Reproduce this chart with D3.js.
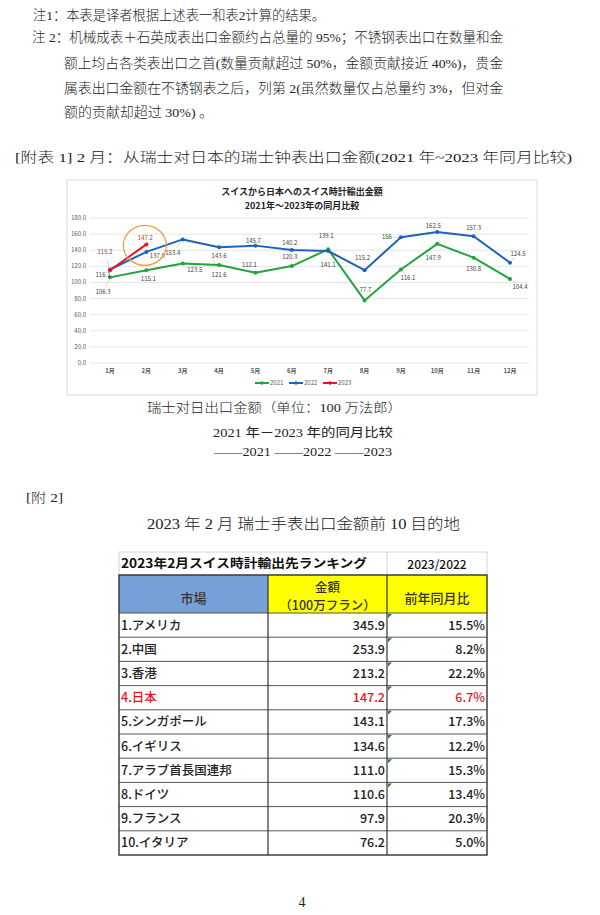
<!DOCTYPE html>
<html>
<head>
<meta charset="utf-8">
<script src="https://cdn.jsdelivr.net/npm/d3@7"></script>
<style>
  html, body { margin: 0; padding: 0; background: #fff; }
  svg { display: block; }
</style>
</head>
<body>
<div class="viz"></div>
<script>
// ---- data ----
const months = ['1月', '2月', '3月', '4月', '5月', '6月', '7月', '8月', '9月', '10月', '11月', '12月'];
const years = ['2021', '2022', '2023'];
const values2021 = [106.3, 115.1, 123.5, 121.6, 112.1, 120.3, 141.1, 77.7, 116.1, 147.9, 130.8, 104.4];
const values2022 = [116.1, 137.9, 153.4, 143.6, 145.7, 140.2, 139.1, 115.2, 156, 162.5, 157.3, 124.5];
const values2023 = [115.2, 147.2];
const yTicks = [0, 20, 40, 60, 80, 100, 120, 140, 160, 180];

const markets = ['1.アメリカ', '2.中国', '3.香港', '4.日本', '5.シンガポール', '6.イギリス',
  '7.アラブ首長国連邦', '8.ドイツ', '9.フランス', '10.イタリア'];
const amounts = [345.9, 253.9, 213.2, 147.2, 143.1, 134.6, 111.0, 110.6, 97.9, 76.2];
const yoy = [15.5, 8.2, 22.2, 6.7, 17.3, 12.2, 15.3, 13.4, 20.3, 5.0];

// label placement (dx, dy from the point, leader line?)
const labelPos = {
  '2021': [[-7, 15, 1], [2, 9, 0], [12, 6, 0], [0, 10, 0], [-6, -8, 0], [-2, -9, 0],
           [0, 16, 0], [1, -10, 0], [7, 9, 1], [-4, 14, 0], [0, 11, 0], [10, 8, 1]],
  '2022': [[-7, 6, 0], [11, 4, 0], [-10, 14, 1], [0, 9, 0], [-2, -5, 0], [-2, -7, 0],
           [-2, -15, 0], [-2, -12, 0], [-14, 0, 1], [-4, -6, 0], [0, -8, 0], [8, -9, 1]],
  '2023': [[-5, -18, 1], [-1, -6, 0]]
};
const colors = { '2021': '#23a33c', '2022': '#1e62bd', '2023': '#e8161b' };

const serif = '"Liberation Serif", "Noto Sans CJK SC", serif';
const jp = '"Noto Sans CJK JP", sans-serif';

const svg = d3.select('.viz').append('svg')
  .attr('width', 600).attr('height', 915);

// ---- notes above ----
const notes = [
  { t: '注1：本表是译者根据上述表一和表2计算的结果。', x: 33, y: 20, w: 292 },
  { t: '注 2：机械成表＋石英成表出口金额约占总量的 95%；不锈钢表出口在数量和金', x: 32, y: 42, w: 471 },
  { t: '额上均占各类表出口之首(数量贡献超过 50%，金额贡献接近 40%)，贵金', x: 64, y: 68, w: 439 },
  { t: '属表出口金额在不锈钢表之后，列第 2(虽然数量仅占总量约 3%，但对金', x: 64, y: 93, w: 439 },
  { t: '额的贡献却超过 30%) 。', x: 64, y: 117, w: 149 },
  { t: '[附表 1] 2 月：从瑞士对日本的瑞士钟表出口金额(2021 年~2023 年同月比较)', x: 15, y: 162, w: 557 }
];
svg.append('g').selectAll('text').data(notes).join('text')
  .attr('x', d => d.x).attr('y', d => d.y)
  .attr('textLength', d => d.w).attr('lengthAdjust', 'spacingAndGlyphs')
  .style('font-family', serif).style('font-size', '13.5px').style('font-weight', 300)
  .attr('fill', '#222').text(d => d.t);

// ---- chart ----
const chart = svg.append('g');
chart.append('rect')
  .attr('x', 67).attr('y', 180).attr('width', 470).attr('height', 215)
  .attr('fill', '#fff').attr('stroke', '#d9d9d9').attr('stroke-width', 1);

const x = d3.scalePoint().domain(months).range([110, 510]);
const y = d3.scaleLinear().domain([0, 180]).range([363, 218]);

chart.append('g').selectAll('line').data(yTicks).join('line')
  .attr('x1', 90).attr('x2', 529)
  .attr('y1', d => y(d)).attr('y2', d => y(d))
  .attr('stroke', '#dedede').attr('stroke-width', 0.8);

chart.append('g').selectAll('text').data(yTicks).join('text')
  .attr('x', 86).attr('y', d => y(d) + 2)
  .attr('text-anchor', 'end')
  .style('font-family', jp).style('font-size', '6px')
  .attr('fill', '#595959').text(d => d.toFixed(1));

chart.append('g').selectAll('text').data(months).join('text')
  .attr('x', d => x(d)).attr('y', 373)
  .attr('text-anchor', 'middle')
  .style('font-family', jp).style('font-size', '6px').style('font-weight', 700)
  .attr('fill', '#595959').text(d => d);

chart.append('text')
  .attr('x', 302).attr('y', 195).attr('text-anchor', 'middle')
  .style('font-family', jp).style('font-size', '9px').style('font-weight', 700)
  .attr('fill', '#222').text('スイスから日本へのスイス時計輸出金額');
chart.append('text')
  .attr('x', 302).attr('y', 209).attr('text-anchor', 'middle')
  .style('font-family', jp).style('font-size', '9px').style('font-weight', 700)
  .attr('fill', '#222').text('2021年～2023年の同月比較');

const seriesData = [
  { year: '2021', values: values2021 },
  { year: '2022', values: values2022 },
  { year: '2023', values: values2023 }
];

const line = d3.line()
  .x((d, i) => x(months[i]))
  .y(d => y(d));

seriesData.forEach(s => {
  const g = chart.append('g');
  const pts = s.values.map((v, i) => ({
    v, i, px: x(months[i]), py: y(v),
    dx: labelPos[s.year][i][0], dy: labelPos[s.year][i][1], leader: labelPos[s.year][i][2]
  }));

  g.selectAll('line.leader').data(pts.filter(p => p.leader)).join('line')
    .attr('class', 'leader')
    .attr('x1', p => p.px).attr('y1', p => p.py)
    .attr('x2', p => p.px + p.dx * 0.6).attr('y2', p => p.py + p.dy * 0.6)
    .attr('stroke', '#bfbfbf').attr('stroke-width', 0.6);

  g.append('path').datum(s.values)
    .attr('d', line)
    .attr('fill', 'none')
    .attr('stroke', colors[s.year])
    .attr('stroke-width', 2)
    .attr('stroke-linejoin', 'round');

  g.selectAll('circle').data(pts).join('circle')
    .attr('cx', p => p.px).attr('cy', p => p.py).attr('r', 2)
    .attr('fill', colors[s.year]);

  g.selectAll('text').data(pts).join('text')
    .attr('x', p => p.px + p.dx).attr('y', p => p.py + p.dy + 2)
    .attr('text-anchor', 'middle')
    .style('font-family', jp).style('font-size', '6px')
    .attr('fill', s.year === '2023' ? '#e8161b' : '#404040')
    .text(p => p.v);
});

// orange circle around Feb 2023
chart.append('ellipse')
  .attr('cx', x('2月') - 1.5).attr('cy', y(values2023[1]) + 1)
  .attr('rx', 21.5).attr('ry', 20)
  .attr('fill', 'none').attr('stroke', '#f29a3a').attr('stroke-width', 1.3);

// legend
const legend = chart.append('g').selectAll('g').data(years).join('g')
  .attr('transform', (d, i) => `translate(${255 + i * 34},383)`);
legend.append('line')
  .attr('x1', 0).attr('x2', 14).attr('y1', 0).attr('y2', 0)
  .attr('stroke', d => colors[d]).attr('stroke-width', 2);
legend.append('circle').attr('cx', 7).attr('cy', 0).attr('r', 1.8)
  .attr('fill', d => colors[d]);
legend.append('text').attr('x', 15).attr('y', 2)
  .style('font-family', jp).style('font-size', '6px')
  .attr('fill', '#595959').text(d => d);

// ---- captions below chart ----
const caps = [
  { t: '瑞士对日出口金额（单位：100 万法郎）', x: 147, y: 412, w: 255, s: 13, wt: 300 },
  { t: '2021 年－2023 年的同月比较', x: 213, y: 437, w: 180, s: 12.5, wt: 400 },
  { t: '——2021  ——2022 ——2023', x: 214, y: 456, w: 178, s: 12, wt: 400 },
  { t: '[附 2]', x: 26, y: 502, w: 37, s: 13, wt: 300 },
  { t: '2023 年 2 月 瑞士手表出口金额前 10 目的地', x: 147, y: 529, w: 313, s: 15, wt: 300 }
];
svg.append('g').selectAll('text').data(caps).join('text')
  .attr('x', d => d.x).attr('y', d => d.y)
  .attr('textLength', d => d.w).attr('lengthAdjust', 'spacingAndGlyphs')
  .style('font-family', serif).style('font-size', d => d.s + 'px').style('font-weight', d => d.wt)
  .attr('fill', '#222').text(d => d.t);

// ---- table ----
const tbl = svg.append('g');
const cx = [119, 268, 387, 487];
const titleTop = 552, headTop = 575, bodyTop = 613, rowH = 24.2;
const rowY = d3.scaleLinear().domain([0, markets.length]).range([bodyTop, bodyTop + rowH * markets.length]);

// title row
tbl.append('rect').attr('x', cx[0]).attr('y', titleTop).attr('width', cx[3] - cx[0]).attr('height', headTop - titleTop)
  .attr('fill', '#fff').attr('stroke', '#c8c8c8').attr('stroke-width', 0.8);
tbl.append('line').attr('x1', cx[2]).attr('x2', cx[2]).attr('y1', titleTop).attr('y2', headTop)
  .attr('stroke', '#c8c8c8').attr('stroke-width', 0.8);
tbl.append('text').attr('x', 121).attr('y', 568)
  .attr('textLength', 246).attr('lengthAdjust', 'spacingAndGlyphs')
  .style('font-family', jp).style('font-size', '12.5px').style('font-weight', 700)
  .attr('fill', '#111').text('2023年2月スイス時計輸出先ランキング');
tbl.append('text').attr('x', (cx[2] + cx[3]) / 2).attr('y', 569).attr('text-anchor', 'middle')
  .style('font-family', jp).style('font-size', '12px').style('font-weight', 500)
  .attr('fill', '#111').text('2023/2022');

// header row
tbl.append('rect').attr('x', cx[0]).attr('y', headTop).attr('width', cx[1] - cx[0]).attr('height', bodyTop - headTop)
  .attr('fill', '#78a0d8');
tbl.append('rect').attr('x', cx[1]).attr('y', headTop).attr('width', cx[3] - cx[1]).attr('height', bodyTop - headTop)
  .attr('fill', '#ffff00');
tbl.append('text').attr('x', (cx[0] + cx[1]) / 2).attr('y', 603).attr('text-anchor', 'middle')
  .style('font-family', jp).style('font-size', '13px').style('font-weight', 500)
  .attr('fill', '#333').text('市場');
tbl.append('text').attr('x', (cx[1] + cx[2]) / 2).attr('y', 592).attr('text-anchor', 'middle')
  .style('font-family', jp).style('font-size', '12.5px').style('font-weight', 500)
  .attr('fill', '#333').text('金額');
tbl.append('text').attr('x', (cx[1] + cx[2]) / 2).attr('y', 610).attr('text-anchor', 'middle')
  .style('font-family', jp).style('font-size', '12.5px').style('font-weight', 500)
  .attr('fill', '#333').text('（100万フラン）');
tbl.append('text').attr('x', (cx[2] + cx[3]) / 2).attr('y', 603).attr('text-anchor', 'middle')
  .style('font-family', jp).style('font-size', '13px').style('font-weight', 500)
  .attr('fill', '#333').text('前年同月比');

// body rows
const rows = markets.map((m, i) => ({ m, a: amounts[i], p: yoy[i], i }));
const rowG = tbl.append('g').selectAll('g').data(rows).join('g')
  .attr('transform', d => `translate(0,${rowY(d.i)})`);
rowG.append('line').attr('x1', cx[0]).attr('x2', cx[3]).attr('y1', 0).attr('y2', 0)
  .attr('stroke', '#555').attr('stroke-width', 1);
rowG.filter(d => d.i < 8).append('path')
  .attr('d', `M${cx[2] + 1},1 l4,0 l-4,4 z`).attr('fill', '#2f7d32');
const rowColor = d => d.m.indexOf('日本') >= 0 ? '#e8161b' : '#222';
rowG.append('text').attr('x', cx[0] + 2).attr('y', rowH / 2 + 4.5)
  .style('font-family', jp).style('font-size', '12.5px').style('font-weight', 500)
  .attr('fill', rowColor).text(d => d.m);
rowG.append('text').attr('x', cx[2] - 2).attr('y', rowH / 2 + 4.5).attr('text-anchor', 'end')
  .style('font-family', jp).style('font-size', '12.5px').style('font-weight', 500)
  .attr('fill', rowColor).text(d => d3.format('.1f')(d.a));
rowG.append('text').attr('x', cx[3] - 2).attr('y', rowH / 2 + 4.5).attr('text-anchor', 'end')
  .style('font-family', jp).style('font-size', '12.5px').style('font-weight', 500)
  .attr('fill', rowColor).text(d => d3.format('.1f')(d.p) + '%');

// table frame
const bottom = rowY(markets.length);
tbl.append('rect').attr('x', cx[0]).attr('y', headTop).attr('width', cx[3] - cx[0]).attr('height', bottom - headTop)
  .attr('fill', 'none').attr('stroke', '#333').attr('stroke-width', 1.4);
tbl.selectAll('line.vcol').data([cx[1], cx[2]]).join('line')
  .attr('class', 'vcol')
  .attr('x1', d => d).attr('x2', d => d).attr('y1', headTop).attr('y2', bottom)
  .attr('stroke', '#333').attr('stroke-width', 1.2);

// page number
svg.append('text').attr('x', 302).attr('y', 907).attr('text-anchor', 'middle')
  .style('font-family', serif).style('font-size', '14px')
  .attr('fill', '#222').text('4');
</script>
</body>
</html>
